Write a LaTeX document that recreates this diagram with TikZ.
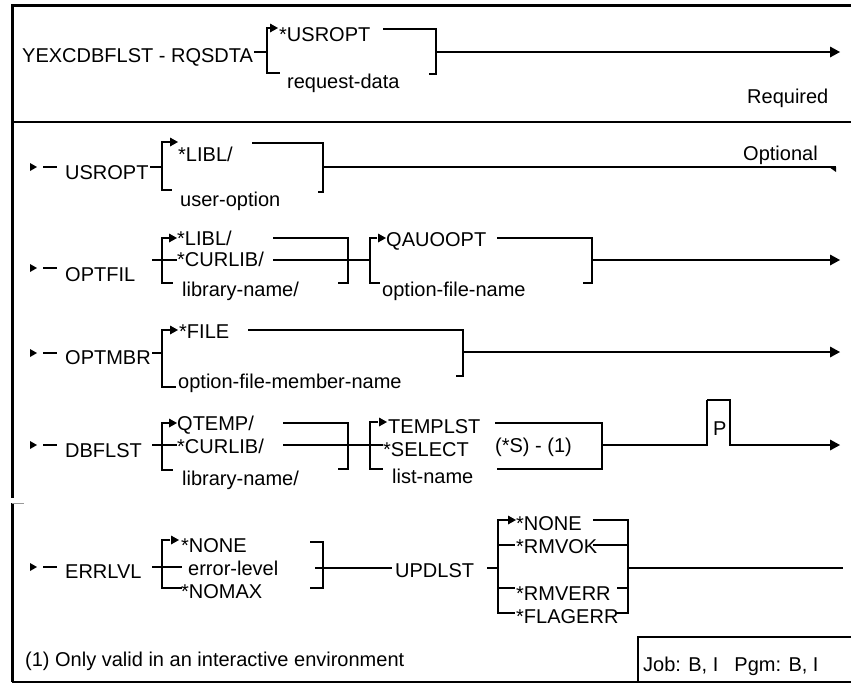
\documentclass[tikz,border=0pt]{standalone}
\usepackage{fontspec}
\setmainfont{Liberation Sans}
\newcommand\tipr[2]{\fill (#1,#2) -- ++(-8,-4.5) -- ++(0,9) -- cycle;}
\newcommand\bigtip[2]{\fill (#1,#2) -- ++(-10,-5.5) -- ++(0,11) -- cycle;}
\newcommand\startmk[1]{\fill (37,#1) -- (30,#1-4) -- (30,#1+4) -- cycle; \draw[ln] (43,#1) -- (57,#1);}
\begin{document}
\begin{tikzpicture}[x=1pt,y=-1pt,
  t/.style={inner sep=0pt, anchor=base west, font=\fontsize{20}{24}\selectfont},
  ln/.style={line width=1.4pt},
  brk/.style={line width=2.6pt, line join=miter},
  frame/.style={line width=3pt},
]
\useasboundingbox (0,0) rectangle (851,683);

% frame
\draw[frame] (851,5) -- (12,5) -- (12,498);
\draw[frame] (12,503) -- (12,682);
\draw[black!40, line width=1pt] (12,503) -- (24,503);
\draw[line width=2pt] (12,122) -- (851,122);
\draw[line width=2pt] (12,682) -- (851,682);
\draw[line width=2pt] (638,682) -- (638,637) -- (851,637);

% Row 1
\node[t] (cmd) at (22,62) {YEXCDBFLST - RQSDTA};
\node[t] (r1a) at (279,41) {*USROPT};
\node[t] (r1b) at (287,88) {request-data};
\node[t] (req) at (747,103) {Required};
\draw[ln] (254,52) -- (267,52);
\draw[brk] (272,28) -- (267,28) -- (267,73) -- (280,73);
\tipr{278}{28}
\draw[ln] (383,29) -- (436,29);
\draw[brk] (430,29) -- (436,29) -- (436,74) -- (429,74);
\draw[ln] (436,52) -- (831,52);
\bigtip{840}{52}

% Row 2 USROPT
\startmk{167}
\node[t] (usropt) at (65,179) {USROPT};
\node[t] (u1) at (178,161) {*LIBL/};
\node[t] (u2) at (180,206) {user-option};
\node[t] (opt) at (743,160) {Optional};
\draw[ln] (150,167) -- (162,167);
\draw[brk] (170,142) -- (162,142) -- (162,190) -- (172,190);
\tipr{178}{142}
\draw[ln] (252,143) -- (323,143);
\draw[brk] (317,143) -- (323,143) -- (323,192) -- (318,192);
\draw[ln] (323,167) -- (836,167);
\fill (836,167) -- (829,167) -- (836,172) -- cycle;

% Row 3 OPTFIL
\startmk{268}
\node[t] (optfil) at (65,281) {OPTFIL};
\node[t] (f1) at (177,245) {*LIBL/};
\node[t] (f2) at (177,266) {*CURLIB/};
\node[t] (f3) at (182,296) {library-name/};
\node[t] (f4) at (386,246) {QAUOOPT};
\node[t] (f5) at (382,296) {option-file-name};
\draw[ln] (152,260) -- (177,260);
\draw[brk] (170,238) -- (162,238) -- (162,283) -- (173,283);
\tipr{177}{238}
\draw[ln] (273,238) -- (348,238);
\draw[ln] (273,260) -- (370,260);
\draw[brk] (342,238) -- (348,238) -- (348,283) -- (338,283);
\draw[brk] (377,238) -- (370,238) -- (370,283) -- (380,283);
\tipr{386}{238}
\draw[ln] (497,238) -- (592,238);
\draw[brk] (586,238) -- (592,238) -- (592,283) -- (583,283);
\draw[ln] (592,260) -- (831,260);
\bigtip{840}{260}

% Row 4 OPTMBR
\startmk{353}
\node[t] (optmbr) at (65,364) {OPTMBR};
\node[t] (m1) at (179,338) {*FILE};
\node[t] (m2) at (178,388) {option-file-member-name};
\draw[ln] (152,353) -- (162,353);
\draw[brk] (170,330) -- (162,330) -- (162,387) -- (176,387);
\tipr{178}{330}
\draw[ln] (248,330) -- (463,330);
\draw[brk] (457,330) -- (463,330) -- (463,376) -- (456,376);
\draw[ln] (463,352) -- (831,352);
\bigtip{840}{352}

% Row 5 DBFLST
\startmk{445}
\node[t] (dbflst) at (65,457) {DBFLST};
\node[t] (d1) at (177,430) {QTEMP/};
\node[t] (d2) at (177,453) {*CURLIB/};
\node[t] (d3) at (182,485) {library-name/};
\node[t] (d4) at (388,433) {TEMPLST};
\node[t] (d5) at (383,456) {*SELECT};
\node[t] (d6) at (392,483) {list-name};
\node[t] (d7) at (495,452) {(*S) - (1)};
\node[t] (pp) at (713,435) {P};
\draw[ln] (152,445) -- (177,445);
\draw[brk] (170,423) -- (162,423) -- (162,470) -- (173,470);
\tipr{177}{423}
\draw[ln] (283,423) -- (348,423);
\draw[ln] (283,445) -- (370,445);
\draw[brk] (342,423) -- (348,423) -- (348,469) -- (338,469);
\draw[brk] (378,422) -- (370,422) -- (370,469) -- (383,469);
\tipr{387}{422}
\draw[ln] (370,445) -- (383,445);
\draw[ln] (495,423) -- (602,423);
\draw[brk] (497,469) -- (602,469) -- (602,423) -- (596,423);
\draw[ln] (602,445) -- (707,445);
\draw[brk] (707,446) -- (707,400);
\draw[ln] (707,400) -- (730,400) -- (730,445) -- (831,445);
\bigtip{840}{445}

% Row 6 ERRLVL / UPDLST
\startmk{567}
\node[t] (errlvl) at (65,578) {ERRLVL};
\node[t] (e1) at (181,552) {*NONE};
\node[t] (e2) at (188,575) {error-level};
\node[t] (e3) at (181,598) {*NOMAX};
\node[t] (updlst) at (395,577) {UPDLST};
\node[t] (p1) at (516,530) {*NONE};
\node[t] (p2) at (516,553) {*RMVOK};
\node[t] (p3) at (516,600) {*RMVERR};
\node[t] (p4) at (516,623) {*FLAGERR};
\draw[ln] (152,567) -- (182,567);
\draw[brk] (170,540) -- (162,540) -- (162,588) -- (182,588);
\tipr{179}{540}
\draw[brk] (310,542) -- (323,542) -- (323,588) -- (310,588);
\draw[ln] (315,568) -- (392,568);
\draw[ln] (487,568) -- (498,568);
\draw[brk] (508,520) -- (498,520) -- (498,613) -- (515,613);
\tipr{516}{520}
\draw[ln] (498,545) -- (515,545);
\draw[ln] (498,588) -- (515,588);
\draw[brk] (593,520) -- (628,520) -- (628,613) -- (615,613);
\draw[ln] (593,545) -- (628,545);
\draw[ln] (617,588) -- (628,588);
\draw[ln] (628,568) -- (843,568);

% footnotes
\node[t] (fn) at (25,666) {(1) Only valid in an interactive environment};
\node[t] (job) at (643,671) {Job: B, I\hspace{16pt}Pgm: B, I};
\end{tikzpicture}
\end{document}
